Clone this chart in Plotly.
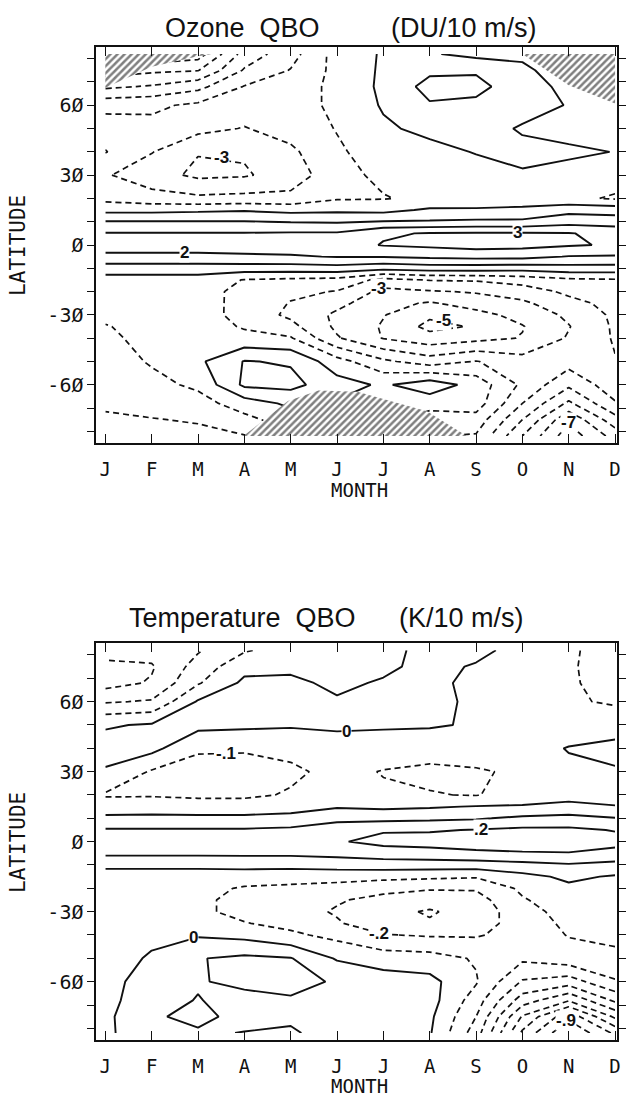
import plotly.graph_objects as go

W, H = 630, 1099

# ---------------------------------------------------------------- data
months = list(range(1, 13))
month_labels = ["J", "F", "M", "A", "M", "J", "J", "A", "S", "O", "N", "D"]
lats = [82, 75, 68, 60, 50, 40, 30, 20, 15, 10, 5, 0, -5, -10, -15, -20,
        -25, -30, -35, -40, -50, -60, -68, -75, -82]

# ozone QBO regression (DU per 10 m/s), rows follow `lats`, columns Jan..Dec
ozone = [
    [-6.0, -7.0, -6.5, -3.6, -2.4, -0.6, 0.1, 0.1, -0.3, -0.4, -1.5, -2.0],
    [-5.5, -5.2, -5.05, -2.9, -1.95, -0.7, 0.15, 0.8, 0.9, 0.4, -1.05, -1.5],
    [-4.2, -3.9, -3.3, -1.95, -1.5, -0.75, 0.2, 1.35, 1.25, 0.5, -0.3, -1.05],
    [-2.3, -2.2, -1.8, -1.5, -1.4, -0.8, 0.1, 0.9, 0.8, 0.4, -0.05, -0.6],
    [-1.5, -1.7, -1.7, -2.05, -1.6, -0.95, -0.15, 0.25, 0.4, -0.1, -0.3, -0.3],
    [-0.95, -1.95, -2.95, -2.9, -2.2, -1.15, -0.5, -0.3, 0.05, 0.25, 0.15, -0.02],
    [-1.9, -2.6, -3.2, -3.1, -2.6, -1.3, -0.8, -0.7, -0.4, -0.1, -0.3, -0.6],
    [-1.3, -1.6, -1.8, -1.7, -1.7, -1.1, -1.05, -0.8, -0.5, -0.5, -0.8, -1.1],
    [-0.3, -0.3, -0.2, -0.1, -0.3, -0.2, -0.3, 0.15, 0.1, 0.2, 0.7, 0.6],
    [1.05, 1.05, 1.05, 1.05, 0.95, 0.9, 1.05, 1.1, 1.2, 1.2, 1.6, 1.5],
    [2.05, 2.05, 2.05, 2.05, 2.1, 2.1, 2.9, 3.05, 3.1, 3.1, 3.05, 2.7],
    [2.4, 2.4, 2.4, 2.45, 2.5, 2.6, 3.05, 3.2, 3.4, 3.3, 3.1, 2.9],
    [1.8, 1.8, 1.8, 1.85, 1.9, 2.05, 2.05, 2.2, 2.3, 2.3, 1.95, 1.9],
    [0.5, 0.5, 0.5, 0.5, 0.5, 0.6, 0.3, 0.5, 0.5, 0.4, 0.6, 0.6],
    [-0.4, -0.4, -0.4, -1.05, -1.2, -1.3, -2.3, -1.95, -1.9, -1.6, -1.2, -1.1],
    [-0.6, -0.6, -0.6, -1.3, -1.8, -2.05, -3.3, -3.1, -2.9, -2.5, -1.8, -1.5],
    [-0.7, -0.65, -0.55, -1.35, -2.05, -2.7, -3.7, -4.1, -3.6, -3.2, -2.3, -1.7],
    [-0.8, -0.7, -0.5, -1.4, -2.2, -3.2, -3.95, -4.8, -4.3, -3.7, -2.8, -1.8],
    [-1.05, -0.7, -0.5, -1.1, -1.7, -3.2, -4.1, -5.3, -4.9, -4.05, -3.05, -1.85],
    [-1.2, -0.7, -0.5, -0.7, -0.9, -2.9, -4.05, -4.6, -4.3, -3.95, -2.9, -1.9],
    [-1.5, -0.9, -0.2, 1.05, 0.9, -0.6, -1.8, -2.5, -1.95, -2.6, -2.6, -2.05],
    [-1.7, -1.3, -0.8, 1.2, 1.3, 0.4, -0.15, 0.6, -0.4, -2.2, -3.8, -2.4],
    [-1.9, -1.6, -1.4, -0.5, 0.2, -0.1, -0.4, -0.6, -0.5, -3.0, -5.2, -3.1],
    [-2.1, -2.05, -1.9, -1.3, -0.5, -0.5, -0.8, -1.5, -1.4, -4.0, -6.8, -4.4],
    [-2.3, -2.4, -2.3, -2.05, -1.05, -0.95, -1.2, -1.95, -2.1, -5.0, -7.6, -5.6],
]

# temperature QBO regression (K per 10 m/s)
temperature = [
    [-0.27, -0.26, -0.21, -0.11, -0.06, -0.04, -0.03, 0.03, 0.03, -0.04, -0.09, -0.13],
    [-0.32, -0.31, -0.16, -0.03, -0.02, -0.03, -0.02, 0.03, -0.01, -0.05, -0.09, -0.14],
    [-0.34, -0.29, -0.11, 0.02, 0.02, -0.02, 0.01, 0.02, -0.02, -0.05, -0.09, -0.13],
    [-0.21, -0.19, 0.01, 0.04, 0.04, 0.01, 0.03, 0.03, -0.02, -0.05, -0.09, -0.11],
    [-0.01, 0.01, 0.03, 0.02, 0.01, 0.015, 0.01, 0.01, -0.01, -0.05, -0.06, -0.05],
    [0.04, 0.03, -0.09, -0.09, -0.07, -0.04, -0.04, -0.06, -0.05, -0.04, 0.005, 0.03],
    [-0.01, -0.11, -0.13, -0.14, -0.12, -0.07, -0.105, -0.12, -0.11, -0.085, -0.02, -0.01],
    [-0.11, -0.11, -0.12, -0.12, -0.09, -0.06, -0.085, -0.095, -0.105, -0.06, -0.04, -0.04],
    [-0.05, -0.04, -0.05, -0.05, -0.04, -0.01, -0.02, -0.01, 0.005, 0.01, 0.03, 0.005],
    [0.02, 0.02, 0.02, 0.02, 0.03, 0.08, 0.07, 0.08, 0.09, 0.12, 0.13, 0.105],
    [0.11, 0.11, 0.11, 0.11, 0.12, 0.14, 0.19, 0.19, 0.205, 0.22, 0.22, 0.195],
    [0.15, 0.15, 0.16, 0.16, 0.17, 0.19, 0.23, 0.24, 0.25, 0.26, 0.26, 0.23],
    [0.12, 0.12, 0.12, 0.12, 0.12, 0.13, 0.15, 0.16, 0.18, 0.19, 0.195, 0.17],
    [0.02, 0.02, 0.02, 0.03, 0.03, 0.04, 0.05, 0.05, 0.05, 0.07, 0.09, 0.07],
    [-0.04, -0.04, -0.04, -0.05, -0.06, -0.06, -0.07, -0.08, -0.09, -0.03, 0.02, -0.01],
    [-0.05, -0.05, -0.07, -0.11, -0.12, -0.14, -0.17, -0.19, -0.19, -0.08, -0.02, -0.03],
    [-0.05, -0.05, -0.08, -0.13, -0.15, -0.19, -0.23, -0.26, -0.24, -0.11, -0.04, -0.05],
    [-0.05, -0.05, -0.08, -0.13, -0.16, -0.21, -0.27, -0.31, -0.26, -0.14, -0.06, -0.06],
    [-0.05, -0.04, -0.06, -0.095, -0.13, -0.19, -0.26, -0.29, -0.25, -0.15, -0.08, -0.07],
    [-0.05, -0.02, -0.01, -0.03, -0.08, -0.13, -0.195, -0.21, -0.21, -0.16, -0.095, -0.08],
    [-0.04, 0.01, 0.095, 0.12, 0.105, -0.01, -0.05, -0.06, -0.11, -0.18, -0.14, -0.12],
    [-0.03, 0.04, 0.09, 0.13, 0.13, 0.09, 0.05, 0.03, -0.09, -0.31, -0.35, -0.21],
    [-0.03, 0.06, 0.105, 0.06, 0.09, 0.06, 0.06, 0.04, -0.15, -0.45, -0.59, -0.38],
    [-0.02, 0.08, 0.14, 0.05, 0.08, 0.04, 0.05, 0.02, -0.2, -0.61, -0.87, -0.58],
    [-0.02, 0.07, 0.08, 0.105, 0.115, 0.05, 0.04, 0.01, -0.25, -0.72, -1.0, -0.78],
]

# regions without ozone data (drawn hatched)
hatch_nw_month = [1.0, 3.3, 3.0, 2.0, 1.0]
hatch_nw_lat = [82, 82, 81, 76.5, 67.5]
hatch_ne_month = [10.0, 12.0, 12.0, 11.0]
hatch_ne_lat = [82, 82, 60.7, 68.6]
hatch_s_month = [3.98, 4.94, 5.6, 6.44, 7.94, 8.8]
hatch_s_lat = [-82, -67, -62.5, -63, -71.4, -82]

# contour labels: level, month position, latitude position
ozone_label_level = [-3, 3, 2, -3, -5, -7]
ozone_label_month = [3.5, 9.9, 2.7, 6.9, 8.3, 11.0]
ozone_label_lat = [37.5, 5.3, -3.3, -18.5, -32.2, -76.2]

temp_label_level = [-0.1, 0, 0.2, 0, -0.2, -0.9]
temp_label_month = [3.6, 6.2, 9.1, 2.9, 6.9, 10.95]
temp_label_lat = [37.8, 47.4, 5.0, -41.0, -39.2, -76.6]

lat_ticks = list(range(-80, 81, 10))
lat_tick_text = {60: "6Ø", 30: "3Ø", 0: "Ø", -30: "-3Ø", -60: "-6Ø"}

# ---------------------------------------------------------------- figure
INK = "#111111"
MONO = "DejaVu Sans Mono"
SANS = "Liberation Sans, Arial, sans-serif"


def level_text(v, decimals):
    if abs(v) < 1e-9:
        return "0"
    s = f"{v:.{decimals}f}"
    if decimals:
        s = s.replace("0.", ".", 1)
    return s


fig = go.Figure()
lat_up = lats[::-1]


def add_contours(z, xa, ya, neg, pos):
    zu = z[::-1]
    common = dict(x=months, y=lat_up, z=zu, xaxis=xa, yaxis=ya,
                  showscale=False, hoverinfo="skip", autocontour=False)
    # negative levels dashed
    fig.add_trace(go.Contour(
        **common,
        contours=dict(start=neg[0], end=neg[1], size=neg[2], coloring="none"),
        line=dict(color=INK, width=1.7, dash="6px,4px", smoothing=0)))
    # zero and positive levels solid
    fig.add_trace(go.Contour(
        **common,
        contours=dict(start=pos[0], end=pos[1], size=pos[2], coloring="none"),
        line=dict(color=INK, width=1.9, smoothing=0)))


add_contours(ozone, "x", "y", (-9, -0.5, 1), (0, 5, 1))
add_contours(temperature, "x2", "y2", (-0.9, -0.05, 0.1), (0, 0.25, 0.1))

for hx, hy in [(hatch_nw_month, hatch_nw_lat),
               (hatch_ne_month, hatch_ne_lat),
               (hatch_s_month, hatch_s_lat)]:
    fig.add_trace(go.Scatter(
        x=hx, y=hy, mode="lines", fill="toself", xaxis="x", yaxis="y",
        line=dict(width=0, color=INK), fillcolor="white",
        fillpattern=dict(shape="/", fgcolor="black", bgcolor="white",
                         size=5, solidity=0.5),
        hoverinfo="skip", showlegend=False))

# ---------------------------------------------------------------- axes
xdom = [97 / W, 621 / W]
top_dom = [1 - 443 / H, 1 - 47 / H]
bot_dom = [1 - 1040 / H, 1 - 643.3 / H]


def xaxis_cfg(anchor):
    return dict(domain=xdom, range=[0.807, 12.043], anchor=anchor,
                tickmode="array", tickvals=months, ticktext=month_labels,
                ticks="inside", ticklen=9, tickwidth=1.3, tickcolor=INK,
                showline=True, linecolor=INK, linewidth=1.8, mirror="ticks",
                showgrid=False, zeroline=False, ticklabelstandoff=8,
                tickfont=dict(family=MONO, size=19, color=INK))


def yaxis_cfg(dom, anchor):
    return dict(domain=dom, range=[-85, 85], anchor=anchor,
                tickmode="array", tickvals=lat_ticks,
                ticktext=[lat_tick_text.get(t, "") for t in lat_ticks],
                ticks="outside", ticklen=7, tickwidth=1.3, tickcolor=INK,
                showline=True, linecolor=INK, linewidth=1.8, mirror="ticks",
                showgrid=False, zeroline=False,
                tickfont=dict(family=MONO, size=20, color=INK))


fig.update_layout(
    width=W, height=H, autosize=False,
    margin=dict(l=0, r=0, t=0, b=0),
    paper_bgcolor="white", plot_bgcolor="white",
    showlegend=False,
    xaxis=xaxis_cfg("y"), yaxis=yaxis_cfg(top_dom, "x"),
    xaxis2=xaxis_cfg("y2"), yaxis2=yaxis_cfg(bot_dom, "x2"),
)

# ---------------------------------------------------------------- text
def paper_y(py):
    return 1 - py / H


titles = [
    ("Ozone\u00a0\u00a0QBO", 164, 28),
    ("(DU/10\u00a0m/s)", 391, 28),
    ("Temperature\u00a0\u00a0QBO", 128, 618),
    ("(K/10\u00a0m/s)", 400, 618),
]
for txt, px, py in titles:
    fig.add_annotation(x=px / W, y=paper_y(py), xref="paper", yref="paper",
                       text=txt, showarrow=False, xanchor="left",
                       yanchor="middle",
                       font=dict(family=SANS, size=27, color=INK))

for py in (490, 1086):
    fig.add_annotation(x=362 / W, y=paper_y(py), xref="paper", yref="paper",
                       text="MONTH", showarrow=False, xanchor="center",
                       yanchor="middle",
                       font=dict(family=MONO, size=19, color=INK))
for py in (245, 842):
    fig.add_annotation(x=18 / W, y=paper_y(py), xref="paper", yref="paper",
                       text="LATITUDE", showarrow=False, textangle=-90,
                       xanchor="center", yanchor="middle",
                       font=dict(family=MONO, size=21, color=INK))


def add_labels(levels, ms, ls, xa, ya, decimals):
    for lv, m, la in zip(levels, ms, ls):
        fig.add_annotation(x=m, y=la, xref=xa, yref=ya,
                           text="<b>" + level_text(lv, decimals) + "</b>",
                           showarrow=False, bgcolor="white", borderpad=0,
                           font=dict(family=SANS, size=17, color=INK))


add_labels(ozone_label_level, ozone_label_month, ozone_label_lat, "x", "y", 0)
add_labels(temp_label_level, temp_label_month, temp_label_lat, "x2", "y2", 1)

fig.write_html("out.html")
